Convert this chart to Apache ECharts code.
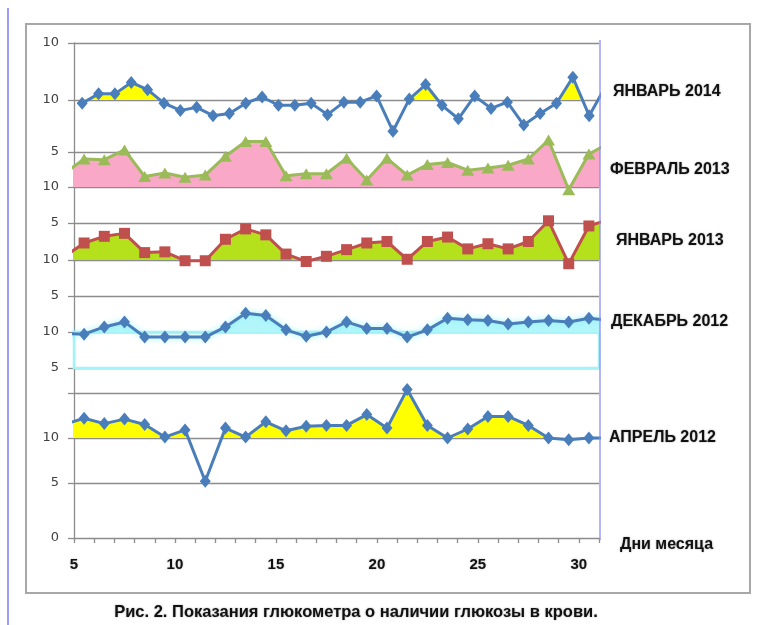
<!DOCTYPE html>
<html><head><meta charset="utf-8">
<script src="https://cdn.jsdelivr.net/npm/echarts@6/dist/echarts.min.js"></script>
<style>html,body{margin:0;padding:0;background:#fff}#c{width:760px;height:625px}</style>
</head><body><div id="c"></div>
<script>
// ---------- DATA ----------
// days 4 and 31 lie just outside the plotted window (cut at the edges, as in the original)
const days = [4,5,6,7,8,9,10,11,12,13,14,15,16,17,18,19,20,21,22,23,24,25,26,27,28,29,30,31];
const daysJan2014 = [1,2,3,4,5,6,7,8,9,10,11,12,13,14,15,16,17,18,19,20,21,22,23,24,25,26,27,28,29,30,31,32,33];
const valuesJan2014 = [9.7,10.6,10.6,11.7,11.0,9.7,9.0,9.3,8.5,8.7,9.7,10.3,9.5,9.5,9.7,8.6,9.8,9.8,10.4,7.0,10.1,11.5,9.5,8.2,10.4,9.2,9.8,7.6,8.7,9.7,12.2,8.5,11.3];
const valuesFeb2013 = [11.9,14.0,13.9,15.3,11.5,12.0,11.4,11.7,14.4,16.5,16.5,11.6,11.9,11.9,14.1,11.0,14.1,11.7,13.2,13.5,12.4,12.7,13.1,14.0,16.7,9.6,14.7,16.3];
const valuesJan2013 = [10.4,12.3,13.2,13.6,11.0,11.1,9.9,9.9,12.8,14.2,13.4,10.8,9.8,10.5,11.4,12.3,12.5,10.1,12.5,13.1,11.5,12.2,11.5,12.5,15.3,9.5,14.6,15.5];
const valuesDec2012 = [9.8,9.7,10.7,11.4,9.3,9.3,9.3,9.3,10.7,12.6,12.3,10.3,9.4,10.0,11.4,10.5,10.5,9.3,10.3,11.9,11.7,11.6,11.1,11.4,11.6,11.4,11.9,11.6];
const valuesApr2012 = [11.5,12.2,11.6,12.1,11.5,10.1,10.9,5.2,11.1,10.1,11.8,10.8,11.3,11.4,11.4,12.6,11.1,15.4,11.4,10.0,11.0,12.4,12.4,11.4,10.0,9.8,10.0,10.0];
const seriesNames = ['ЯНВАРЬ 2014','ФЕВРАЛЬ 2013','ЯНВАРЬ 2013','ДЕКАБРЬ 2012','АПРЕЛЬ 2012'];
const baselineValue = 10;
const xTickValues = [5,10,15,20,25,30];
const yTickValues = [[10,15.5],[10,15],[10,15],[5,10,15],[5,10,15]];
const yTickLabels = [['10','10'],['10','5'],['10','5'],['5','10','5'],['5','10','']];
const baseTickValues = [0];
const baseTickLabels = ['0'];
const xAxisTitle = 'Дни месяца';
const caption = 'Рис. 2. Показания глюкометра о наличии глюкозы в крови.';

// ---------- LAYOUT / STYLE ----------
const H = 625, L = 74, R = 599, PAD = 22;
const layout = [
  {top:43, bottom:152, min:5, max:15.5, xmin:0, xmax:32.1},
  {top:152, bottom:187, min:10, max:15, xmin:5, xmax:31},
  {top:223, bottom:260, min:10, max:15, xmin:5, xmax:31},
  {top:296, bottom:368, min:5, max:15, xmin:5, xmax:31},
  {top:393, bottom:483, min:5, max:15, xmin:5, xmax:31}
];
const styles = [
  {color:'#4a7ebb', symbol:'diamond', size:[11,13], fill:'#ffff00'},
  {color:'#9bbb59', symbol:'triangle', size:[13,11], fill:'#f9a8c8'},
  {color:'#c0504d', symbol:'rect', size:11, fill:'#b4e11c'},
  {color:'#4a7ebb', symbol:'diamond', size:[11,13], fill:'#b2f6fa', halo:'#8ceff6'},
  {color:'#4a7ebb', symbol:'diamond', size:[11,13], fill:'#ffff00'}
];
const labelPos = [
  {x:613, y:92}, {x:610, y:170}, {x:616, y:241}, {x:611, y:322}, {x:609, y:438}
];
const gridColor = '#8c8c8c';

const panelData = [
  valuesJan2014.map((v,i)=>[daysJan2014[i]-0.5, v]),
  valuesFeb2013.map((v,i)=>[days[i]+0.5, v]),
  valuesJan2013.map((v,i)=>[days[i]+0.5, v]),
  valuesDec2012.map((v,i)=>[days[i]+0.5, v]),
  valuesApr2012.map((v,i)=>[days[i]+0.5, v])
];

const grids = [{left:L, right:760-R, top:43, bottom:H-538}];
const xAxes = [{
  type:'value', gridIndex:0, min:5, max:31, interval:1,
  axisLine:{show:true, lineStyle:{color:gridColor, width:1.3}},
  axisTick:{show:true, length:5, lineStyle:{color:gridColor, width:1.3}},
  splitLine:{show:false},
  axisLabel:{customValues:xTickValues, margin:19, fontFamily:'Liberation Sans', fontWeight:'bold', fontSize:15, color:'#111',
    textShadowColor:'rgba(0,0,0,0.35)', textShadowBlur:2,
    formatter:v=>String(xTickValues[xTickValues.indexOf(v)])}
}];
const yAxes = [{
  type:'value', gridIndex:0, min:0, max:1,
  axisLine:{show:true, lineStyle:{color:gridColor, width:1.3}},
  axisTick:{show:true, customValues:baseTickValues, length:6, lineStyle:{color:gridColor, width:1.3}},
  axisLabel:{show:true, customValues:baseTickValues, margin:15, fontFamily:'DejaVu Sans', fontSize:13, color:'#404040',
    formatter:v=>baseTickLabels[baseTickValues.indexOf(v)]},
  splitLine:{show:false}
}];
const series = [];

layout.forEach((p,k)=>{
  const ppu = (p.bottom - p.top)/(p.max - p.min);
  const basePx = p.bottom - (baselineValue - p.min)*ppu;
  const fillTop = p.top - 25;
  // panel grid (padded so lines may overshoot the outer gridlines; x is clipped at the plot edges)
  grids.push({left:L, right:760-R, top:p.top-PAD, bottom:H-p.bottom-PAD});
  const gi = grids.length-1;
  xAxes.push({type:'value', gridIndex:gi, min:p.xmin, max:p.xmax, show:false});
  yAxes.push({type:'value', gridIndex:gi, min:p.min - PAD/ppu, max:p.max + PAD/ppu,
    axisLine:{show:false},
    axisTick:{show:true, customValues:yTickValues[k], length:6, lineStyle:{color:gridColor, width:1.3}},
    splitLine:{show:true, lineStyle:{color:gridColor, width:1.3}},
    axisLabel:{show:true, customValues:yTickValues[k], margin:15, fontFamily:'DejaVu Sans', fontSize:13, color:'#404040',
      formatter:v=>yTickLabels[k][yTickValues[k].indexOf(v)]}
  });
  // fill grid (clipped at the baseline)
  grids.push({left:L, right:760-R, top:fillTop, bottom:H-basePx});
  const fi = grids.length-1;
  xAxes.push({type:'value', gridIndex:fi, min:p.xmin, max:p.xmax, show:false});
  yAxes.push({type:'value', gridIndex:fi, min:baselineValue, max:baselineValue + (basePx-fillTop)/ppu, show:false, splitLine:{show:false}});
  const st = styles[k];
  series.push({
    type:'line', name:seriesNames[k]+' fill', xAxisIndex:fi, yAxisIndex:fi, data:panelData[k],
    symbol:'none', clip:true, z:2, silent:true,
    lineStyle:{width:0.01, opacity:0},
    areaStyle:{color:st.fill, opacity:1, origin:'start'}
  });
  if (k===3) {
    series.push({
      type:'line', xAxisIndex:gi, yAxisIndex:gi, data:[], z:1, silent:true,
      markArea:{silent:true, itemStyle:{color:'rgba(255,255,255,0)', borderColor:'#a6f3f7', borderWidth:2.5},
        data:[[{yAxis:baselineValue},{yAxis:p.min}]]}
    });
  }
  series.push({
    type:'line', name:seriesNames[k], xAxisIndex:gi, yAxisIndex:gi, data:panelData[k],
    clip:true, z:3, symbol:st.symbol, symbolSize:st.size, showSymbol:true,
    lineStyle:Object.assign({color:st.color, width:3}, st.halo?{shadowColor:st.halo, shadowBlur:6}:{}),
    itemStyle:{color:st.color}
  });
});

const labelStyle = {fontFamily:'Liberation Sans', fontWeight:'bold', fontSize:16, fill:'#111',
  textShadowColor:'rgba(0,0,0,0.35)', textShadowBlur:2};
const graphic = [
  {type:'rect', shape:{x:26, y:24, width:724, height:569}, style:{fill:'none', stroke:'#a8a8a8', lineWidth:2}, z:-1},
  {type:'line', shape:{x1:8, y1:8, x2:8, y2:625}, style:{stroke:'#7c7cf5', lineWidth:1.5}},
  {type:'line', shape:{x1:600, y1:40, x2:600, y2:540}, style:{stroke:'#8c8cf5', lineWidth:1.3}, z:10},
  {type:'text', x:620, y:545, style:Object.assign({text:xAxisTitle, verticalAlign:'middle'}, labelStyle)},
  {type:'text', x:356, y:612, style:Object.assign({text:caption, align:'center', verticalAlign:'middle'}, labelStyle, {fontSize:16.5})}
];
seriesNames.forEach((n,k)=>{
  graphic.push({type:'text', x:labelPos[k].x, y:labelPos[k].y, style:Object.assign({text:n, verticalAlign:'middle'}, labelStyle)});
});

const chart = echarts.init(document.getElementById('c'), null, {renderer:'canvas'});
chart.setOption({animation:false, backgroundColor:'#fff', grid:grids, xAxis:xAxes, yAxis:yAxes, series, graphic});
</script></body></html>
